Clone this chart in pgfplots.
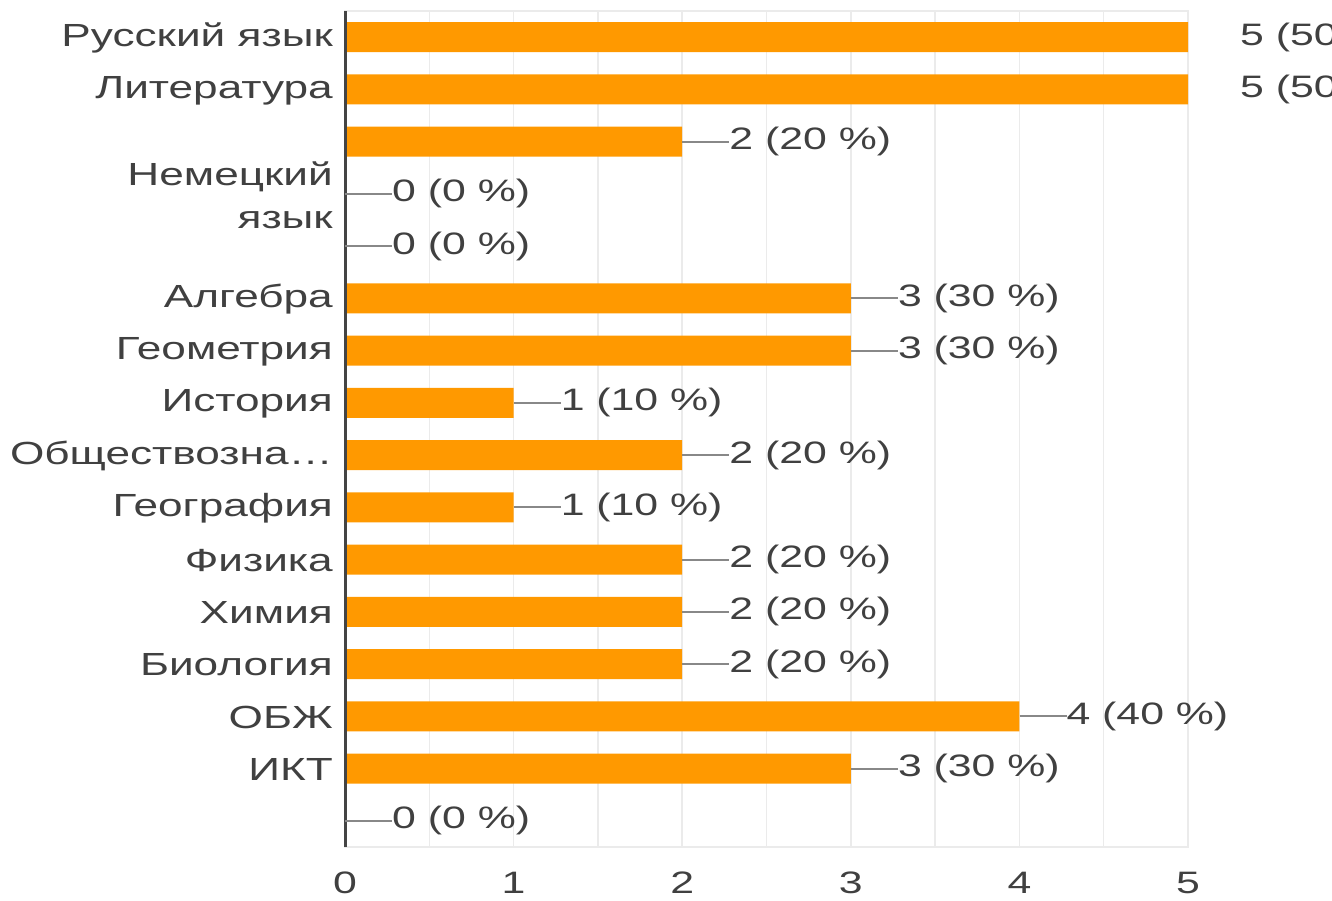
\documentclass[border=0pt]{standalone}
\usepackage{fontspec}
\setmainfont{Liberation Sans}[FakeStretch=1.38]
\usepackage{pgfplots}
\pgfplotsset{compat=1.18}
\definecolor{barorange}{HTML}{FF9900}
\definecolor{txt}{HTML}{404040}
\definecolor{leader}{HTML}{888888}
\definecolor{gridc}{HTML}{EBEBEB}
\definecolor{axisdark}{HTML}{444444}
\begin{document}
\begin{tikzpicture}[x=1pt,y=1pt]
\useasboundingbox (0,0) rectangle (1332,900);
\clip (0,0) rectangle (1332,900);
\begin{axis}[
  at={(345pt,53pt)}, anchor=south west,
  scale only axis, width=843pt, height=836pt,
  xmin=0, xmax=5, ymin=0.5, ymax=16.5,
  y dir=reverse,
  xbar, bar width=30pt, bar shift=0pt,
  xtick={0,1,2,3,4,5},
  minor xtick={0.5,1.5,2.5,3.5,4.5},
  xmajorgrids, xminorgrids,
  grid style={draw=gridc, line width=1.5pt},
  minor grid style={draw=gridc, line width=1.5pt},
  axis line style={draw=gridc, line width=1.5pt},
  major tick length=0pt, minor tick length=0pt,
  ytick={1,...,16},
  yticklabels={Русский язык,Литература,,{Немецкий\\язык},,Алгебра,Геометрия,История,Обществозна…,География,Физика,Химия,Биология,ОБЖ,ИКТ,},
  yticklabel style={font=\fontsize{32}{43}\selectfont, text=txt, align=right, inner sep=0pt, xshift=-12pt, yshift=-1pt},
  xticklabel style={font=\fontsize{31}{36}\selectfont, text=txt, inner sep=0pt, yshift=-25pt},
  /pgf/number format/assume math mode=true,
  point meta=explicit symbolic,
  nodes near coords align=horizontal,
  every node near coord/.append style={anchor=west, inner sep=0pt, xshift=0pt, text=txt,
     font=\fontsize{31}{38}\selectfont, text height=23pt, text depth=7pt},
  clip=false,
]
\addplot[fill=barorange, draw=none,
  nodes near coords={\textcolor{leader}{\rule[7pt]{47pt}{2pt}}\pgfplotspointmeta}]
coordinates {
 (2,3) [2 (20 \%)]
 (0,4) [0 (0 \%)]
 (0,5) [0 (0 \%)]
 (3,6) [3 (30 \%)]
 (3,7) [3 (30 \%)]
 (1,8) [1 (10 \%)]
 (2,9) [2 (20 \%)]
 (1,10) [1 (10 \%)]
 (2,11) [2 (20 \%)]
 (2,12) [2 (20 \%)]
 (2,13) [2 (20 \%)]
 (4,14) [4 (40 \%)]
 (3,15) [3 (30 \%)]
 (0,16) [0 (0 \%)]
};
\addplot[fill=barorange, draw=none,
  nodes near coords={\hspace*{52pt}\pgfplotspointmeta}]
coordinates {
 (5,1) [5 (50 \%)]
 (5,2) [5 (50 \%)]
};
\draw[axisdark, line width=3pt] (axis cs:0,0.5) -- (axis cs:0,16.5);
\end{axis}
\end{tikzpicture}
\end{document}
